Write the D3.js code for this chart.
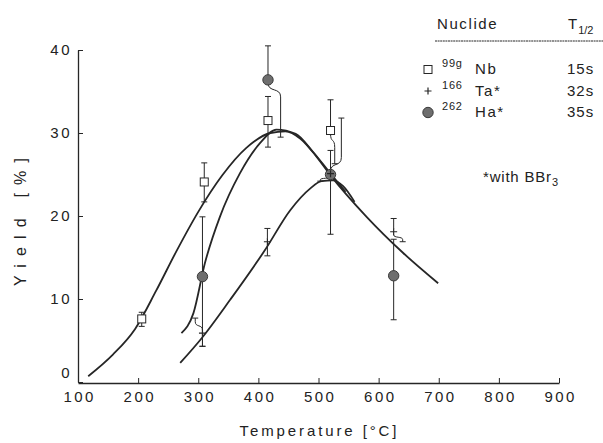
<!DOCTYPE html>
<html>
<head>
<meta charset="utf-8">
<script src="https://cdnjs.cloudflare.com/ajax/libs/d3/7.8.5/d3.min.js"></script>
<style>
body { margin: 0; background: #fff; }
text { font-family: "Liberation Sans", Arial, sans-serif; fill: #222; }
</style>
</head>
<body>
<div class="graphic"></div>
<script>
// values
var xTicks = [100, 200, 300, 400, 500, 600, 700, 800, 900];
var yTicks = [0, 10, 20, 30, 40];

// fitted curves [temperature, yield]
var curveNb = [[117,0.7],[158,3.3],[195,6.4],[230,11.0],[264,15.8],[300,20.5],[340,24.9],[380,28.2],
	[420,30.0],[445,30.2],[470,29.3],[495,27.3],[520,24.9],[580,19.9],[640,15.6],[699,11.9]];
var curveHa = [[272,5.9],[292,8.3],[311,14.3],[336,19.9],[369,25.1],[403,28.8],[430,30.4],
	[462,29.9],[490,27.8],[520,25.1],[545,22.9]];
var curveTa = [[270,2.3],[306,5.3],[353,9.9],[411,15.9],[453,20.7],[486,23.3],[505,24.2],
	[524,24.3],[541,23.6],[560,21.7]];

// measured points; loT / hiT = where an error bar was moved sideways
var nbPoints = [
	{t:206, y:7.6, lo:6.7, hi:8.4},
	{t:310, y:24.1, lo:21.7, hi:26.4},
	{t:416, y:31.5, lo:28.3, hi:34.4},
	{t:520, y:30.3, lo:26.3, hi:34.0, loT:527}
];
var taPoints = [
	{t:307, y:5.9, lo:4.3, hi:7.7, hiT:295},
	{t:415, y:16.9, lo:15.2, hi:18.5},
	{t:520, y:25.1, lo:24.2, hi:27.9, loT:503},
	{t:625, y:18.1, lo:16.9, hi:19.7, loT:640}
];
var haPoints = [
	{t:307, y:12.7, lo:4.3, hi:19.9},
	{t:416, y:36.4, lo:29.5, hi:40.5, loT:437},
	{t:520, y:25.0, lo:17.8, hi:31.8, hiT:538},
	{t:625, y:12.8, lo:7.5, hi:17.2}
];

var legendNuclides = [
	{mass:"99g", name:"Nb", half:"15s", kind:"nb"},
	{mass:"166", name:"Ta*", half:"32s", kind:"ta"},
	{mass:"262", name:"Ha*", half:"35s", kind:"ha"}
];

var width = 603;
var height = 443;
var ink = "#262626";

var svg = d3.select("div.graphic").append("svg")
	.attr("width", width)
	.attr("height", height);

var x = d3.scaleLinear().domain([100, 900]).range([78, 559]);
var y = d3.scaleLinear().domain([0, 40]).range([382, 50]);

// axes
var xAxis = svg.append("g")
	.attr("transform", "translate(0," + (y(0) + 1) + ")")
	.call(d3.axisBottom(x).tickValues(xTicks).tickSizeInner(-5).tickSizeOuter(0).tickPadding(8));
var yAxis = svg.append("g")
	.attr("transform", "translate(" + x(100) + ",0)")
	.call(d3.axisLeft(y).tickValues(yTicks).tickSizeInner(-5).tickSizeOuter(0).tickPadding(8));

[xAxis, yAxis].forEach(function(ax){
	ax.select(".domain").attr("stroke", ink).attr("stroke-width", 1.3);
	ax.selectAll(".tick line").attr("stroke", ink).attr("stroke-width", 1);
	ax.selectAll(".tick text")
		.attr("font-size", 15)
		.attr("font-family", "Liberation Sans, Arial, sans-serif")
		.attr("fill", ink)
		.style("letter-spacing", "2.5px");
});
xAxis.selectAll(".tick text").attr("dx", "1.2px");
yAxis.selectAll(".tick text").attr("dx", "2px");
yAxis.selectAll(".tick text").filter(function(d){ return d === 0; }).attr("dy", "-0.3em");

svg.append("text")
	.attr("x", 318).attr("y", 436)
	.attr("text-anchor", "middle")
	.attr("font-size", 15)
	.attr("textLength", 157)
	.attr("lengthAdjust", "spacing")
	.text("Temperature  [°C]");

svg.append("text")
	.attr("transform", "translate(26,222) rotate(-90)")
	.attr("text-anchor", "middle")
	.attr("font-size", 16)
	.attr("textLength", 128)
	.attr("lengthAdjust", "spacing")
	.text("Yield  [%]");

// curves
var line = d3.line()
	.x(function(d){ return x(d[0]); })
	.y(function(d){ return y(d[1]); })
	.curve(d3.curveMonotoneX);

var curves = svg.append("g");
curves.selectAll("path")
	.data([curveNb, curveHa, curveTa])
	.enter()
	.append("path")
	.attr("d", line)
	.attr("fill", "none")
	.attr("stroke", ink)
	.attr("stroke-width", 1.8);

// error bars, bent where the original moved them aside
function barPath(x0, y0, x1, y1){
	if (x0 === x1) return "M" + x0 + "," + y0 + "L" + x1 + "," + y1;
	var dir = y1 > y0 ? 1 : -1;
	var b = Math.min(14, Math.abs(y1 - y0) * 0.7);
	return "M" + x0 + "," + y0 +
		"C" + x0 + "," + (y0 + dir * b * 0.7) + " " + x1 + "," + (y0 + dir * b * 0.3) + " " + x1 + "," + (y0 + dir * b) +
		"L" + x1 + "," + y1;
}

function drawBars(points){
	var g = svg.append("g").attr("stroke", ink).attr("fill", "none").attr("stroke-width", 1);
	points.forEach(function(p){
		var px = x(p.t), py = y(p.y);
		var hx = x(p.hiT || p.t), lx = x(p.loT || p.t);
		g.append("path").attr("d", barPath(px, py - 3, hx, y(p.hi)));
		g.append("path").attr("d", barPath(px, py + 3, lx, y(p.lo)));
		g.append("line").attr("x1", hx - 3).attr("x2", hx + 3).attr("y1", y(p.hi)).attr("y2", y(p.hi));
		g.append("line").attr("x1", lx - 3).attr("x2", lx + 3).attr("y1", y(p.lo)).attr("y2", y(p.lo));
	});
}
drawBars(haPoints);
drawBars(nbPoints);
drawBars(taPoints);

// markers
function marker(g, kind, cx, cy){
	if (kind === "nb"){
		g.append("rect")
			.attr("x", cx - 4).attr("y", cy - 4).attr("width", 8).attr("height", 8)
			.attr("fill", "#fff").attr("stroke", ink).attr("stroke-width", 1);
	} else if (kind === "ta"){
		g.append("path")
			.attr("d", "M" + (cx - 3.5) + "," + cy + "H" + (cx + 3.5) + "M" + cx + "," + (cy - 3.5) + "V" + (cy + 3.5))
			.attr("stroke", ink).attr("stroke-width", 1.2);
	} else {
		g.append("circle")
			.attr("cx", cx).attr("cy", cy).attr("r", 5.2)
			.attr("fill", "#6e6e6e").attr("stroke", "#3a3a3a").attr("stroke-width", 1);
	}
}

var marks = svg.append("g");
haPoints.forEach(function(p){ marker(marks, "ha", x(p.t), y(p.y)); });
nbPoints.forEach(function(p){ marker(marks, "nb", x(p.t), y(p.y)); });
taPoints.forEach(function(p){ marker(marks, "ta", x(p.t), y(p.y)); });

// legend
var legend = svg.append("g");
legend.append("text").attr("x", 437).attr("y", 29).attr("font-size", 15)
	.style("letter-spacing", "1.6px").text("Nuclide");
legend.append("text").attr("x", 568).attr("y", 29).attr("font-size", 15).text("T")
	.append("tspan").attr("font-size", 11).attr("dy", 5).attr("dx", 1).text("1/2");
legend.append("line")
	.attr("x1", 435).attr("x2", 603).attr("y1", 41).attr("y2", 41)
	.attr("stroke", ink).attr("stroke-width", 1).attr("stroke-dasharray", "2,0.6");

legendNuclides.forEach(function(n, i){
	var base = 74 + i * 21.5;
	marker(legend, n.kind, 428, base - 4.5);
	legend.append("text").attr("x", 442).attr("y", base - 7).attr("font-size", 11)
		.style("letter-spacing", "0.8px").text(n.mass);
	legend.append("text").attr("x", 475).attr("y", base).attr("font-size", 15)
		.style("letter-spacing", "1.6px").text(n.name);
	legend.append("text").attr("x", 567).attr("y", base).attr("font-size", 15)
		.style("letter-spacing", "1px").text(n.half);
});

var note = legend.append("text").attr("x", 483).attr("y", 182).attr("font-size", 15)
	.style("letter-spacing", "0.8px").text("*with BBr");
note.append("tspan").attr("font-size", 11).attr("dy", 4).text("3");
</script>
</body>
</html>
